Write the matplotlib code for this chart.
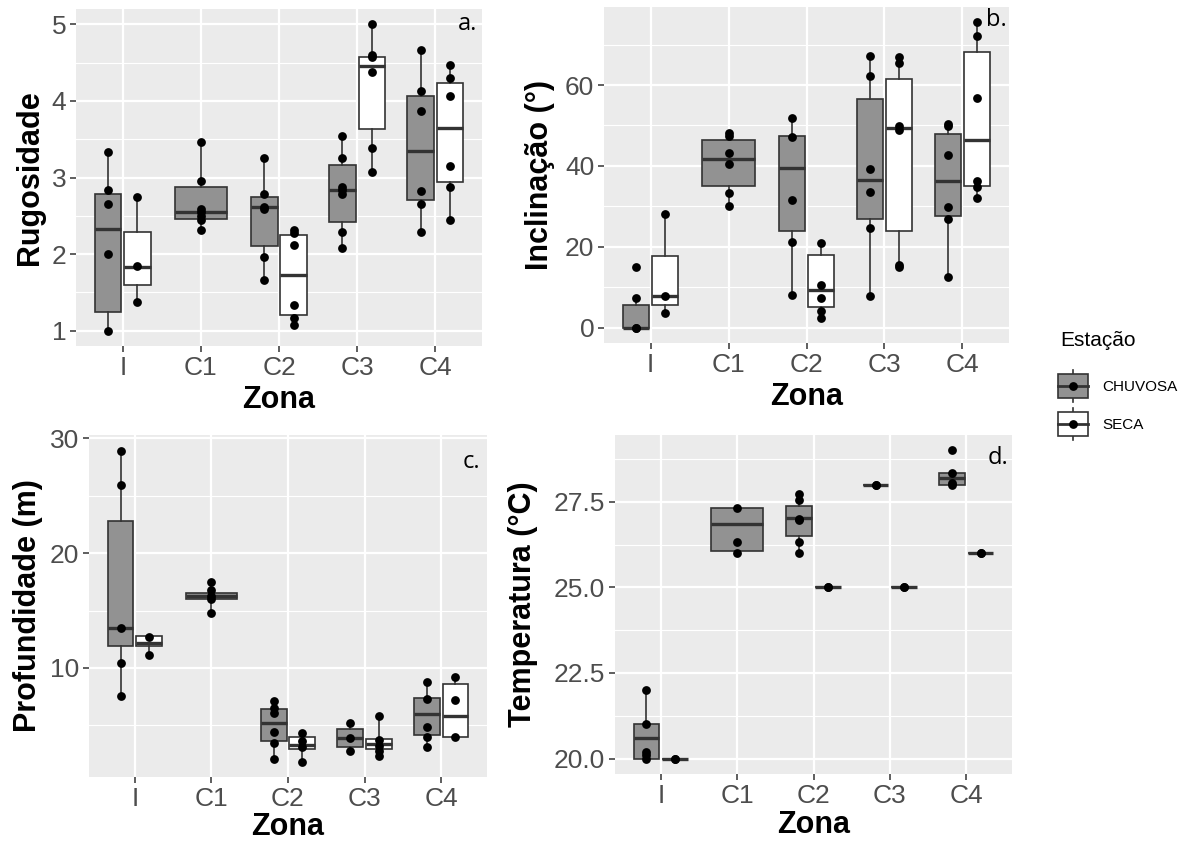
import matplotlib
matplotlib.use("Agg")
import matplotlib.pyplot as plt
from matplotlib.patches import Rectangle

plt.rcParams['font.family'] = ['Liberation Sans', 'DejaVu Sans']

zonas = ["I", "C1", "C2", "C3", "C4"]

# caixas: (whislo, q1, mediana, q3, whishi) por zona; None = sem dados
rug_chuvosa_box = [(1.00, 1.25, 2.33, 2.79, 3.33), (2.32, 2.46, 2.55, 2.87, 3.46),
                   (1.66, 2.11, 2.61, 2.75, 3.25), (2.08, 2.42, 2.84, 3.16, 3.54),
                   (2.29, 2.70, 3.35, 4.07, 4.66)]
rug_seca_box = [(1.37, 1.60, 1.83, 2.29, 2.77), None,
                (1.08, 1.21, 1.73, 2.25, 2.32), (3.07, 3.63, 4.45, 4.57, 5.00),
                (2.45, 2.94, 3.64, 4.24, 4.47)]
rug_chuvosa_pts = [[3.33, 2.84, 2.66, 2.00, 1.00], [3.46, 2.95, 2.59, 2.55, 2.50, 2.45, 2.32],
                   [3.25, 2.79, 2.62, 2.59, 1.96, 1.66], [3.54, 3.25, 2.88, 2.84, 2.78, 2.29, 2.08],
                   [4.66, 4.13, 3.87, 2.83, 2.66, 2.29]]
rug_seca_pts = [[2.75, 1.84, 1.37], [], [2.32, 2.27, 2.12, 1.33, 1.16, 1.08],
                [5.00, 4.60, 4.57, 4.38, 3.38, 3.07], [4.47, 4.30, 4.07, 3.15, 2.87, 2.45]]

inc_chuvosa_box = [(0.0, 0.0, 0.0, 5.6, 7.4), (30.2, 35.0, 41.8, 46.3, 48.1),
                   (8.0, 23.9, 39.5, 47.3, 51.8), (7.8, 26.9, 36.5, 56.6, 67.2),
                   (12.4, 27.6, 36.3, 47.8, 50.3)]
inc_seca_box = [(3.7, 5.7, 7.9, 17.8, 28.2), None,
                (2.3, 5.0, 9.2, 17.9, 21.0), (15.1, 23.9, 49.4, 61.6, 66.9),
                (32.0, 35.0, 46.3, 68.2, 75.5)]
inc_chuvosa_pts = [[14.9, 7.4, 0.0, 0.0], [48.1, 47.5, 43.1, 40.5, 33.2, 30.2],
                   [51.8, 47.2, 31.5, 21.2, 8.0], [67.2, 62.2, 39.3, 33.6, 24.7, 7.8],
                   [50.3, 49.8, 42.8, 29.9, 26.8, 12.4]]
inc_seca_pts = [[28.2, 7.9, 3.7], [], [21.0, 10.5, 7.4, 4.2, 2.3],
                [66.9, 65.5, 49.9, 48.8, 15.4, 15.0], [75.5, 72.2, 56.7, 36.2, 34.8, 32.0]]

prof_chuvosa_box = [(7.6, 11.9, 13.5, 22.8, 28.9), (14.8, 16.0, 16.3, 16.5, 17.5),
                    (2.1, 3.6, 5.2, 6.4, 7.1), (2.8, 3.1, 3.9, 4.7, 5.2),
                    (3.1, 4.2, 6.0, 7.4, 8.8)]
prof_seca_box = [(11.1, 11.9, 12.2, 12.8, 12.8), None,
                 (1.8, 2.9, 3.3, 4.0, 4.3), (2.3, 2.9, 3.4, 3.8, 5.8),
                 (4.0, 4.0, 5.8, 8.6, 9.2)]
prof_chuvosa_pts = [[28.9, 25.9, 13.5, 10.4, 7.6], [17.5, 16.8, 16.3, 16.0, 14.8],
                    [7.1, 6.5, 6.1, 4.4, 3.5, 2.1], [5.2, 3.9, 2.8], [8.8, 7.3, 4.9, 4.0, 3.1]]
prof_seca_pts = [[12.7, 11.1], [], [4.3, 3.6, 3.1, 1.8], [5.8, 3.7, 3.2, 2.8, 2.3], [9.2, 7.2, 4.0]]

temp_chuvosa_box = [(20.0, 20.0, 20.6, 21.0, 22.0), (26.0, 26.07, 26.84, 27.33, 27.33),
                    (26.0, 26.5, 27.03, 27.37, 27.72), (28.0, 28.0, 28.0, 28.0, 28.0),
                    (28.0, 28.0, 28.19, 28.33, 28.35)]
temp_seca_box = [(20.0, 20.0, 20.0, 20.0, 20.0), None,
                 (25.0, 25.0, 25.0, 25.0, 25.0), (25.0, 25.0, 25.0, 25.0, 25.0),
                 (26.0, 26.0, 26.0, 26.0, 26.0)]
temp_chuvosa_pts = [[22.0, 21.0, 20.2, 20.1, 20.0], [27.33, 26.33, 26.0],
                    [27.72, 27.55, 27.0, 26.97, 26.33, 26.0], [28.0, 28.0], [29.0, 28.35, 28.04, 28.0]]
temp_seca_pts = [[20.0, 20.0], [], [25.0, 25.0], [25.0, 25.0], [26.0, 26.0]]

cor_chuvosa = "#929292"
cor_seca = "#ffffff"
cor_linha = "#333333"

W, H = 1197, 843
fig = plt.figure(figsize=(W / 100, H / 100), dpi=100)


def eixo(x0, y0, x1, y1):
    return fig.add_axes([x0 / W, 1 - y1 / H, (x1 - x0) / W, (y1 - y0) / H])


def painel(ax, box_ch, box_se, pts_ch, pts_se, ylim, yticks, yminor, yfmt,
           ylabel, ylab_x, xlab_y, letra, letra_xy):
    ax.set_facecolor("#EBEBEB")
    for s in ax.spines.values():
        s.set_visible(False)
    ax.set_xlim(0.4, 5.6)
    ax.set_ylim(*ylim)
    ax.set_xticks(range(1, 6))
    ax.set_xticklabels(zonas)
    ax.set_yticks(yticks)
    ax.set_yticklabels([yfmt.format(v) for v in yticks])
    ax.set_yticks(yminor, minor=True)
    ax.tick_params(which="major", length=4, width=1.1, color=cor_linha,
                   labelsize=19, labelcolor="#4D4D4D", pad=3)
    ax.tick_params(which="minor", length=0)
    ax.grid(which="major", color="white", linewidth=1.6)
    ax.grid(which="minor", axis="y", color="white", linewidth=0.8)
    ax.set_axisbelow(True)

    for i in range(len(zonas)):
        grupos = [(box_ch[i], pts_ch[i], cor_chuvosa), (box_se[i], pts_se[i], cor_seca)]
        grupos = [g for g in grupos if g[0] is not None]
        for j, (st, pts, cor) in enumerate(grupos):
            if len(grupos) == 2:
                pos = i + 1 + (j - 0.5) * 0.375
                w = 0.3375
            else:
                pos = i + 1
                w = 0.675
            lo, q1, med, q3, hi = st
            ax.bxp([dict(whislo=lo, q1=q1, med=med, q3=q3, whishi=hi)],
                   positions=[pos], widths=w, patch_artist=True,
                   showfliers=False, showcaps=False, manage_ticks=False,
                   boxprops=dict(facecolor=cor, edgecolor=cor_linha, linewidth=1.2),
                   whiskerprops=dict(color=cor_linha, linewidth=1.2),
                   medianprops=dict(color=cor_linha, linewidth=2.4))
            ax.scatter([pos] * len(pts), pts, s=40, color="black", zorder=4,
                       linewidths=0)

    ax.set_ylabel(ylabel, fontsize=22, fontweight="bold", va="center")
    ax.yaxis.set_label_coords(ylab_x, 0.5)
    ax.set_xlabel("Zona", fontsize=22, fontweight="bold", va="center")
    ax.xaxis.set_label_coords(0.5, xlab_y)
    ax.text(letra_xy[0], letra_xy[1], letra, transform=ax.transAxes,
            ha="right", va="center", fontsize=17, family=["Open Sans", "DejaVu Sans"])


ax_a = eixo(76, 9, 482, 346)
painel(ax_a, rug_chuvosa_box, rug_seca_box, rug_chuvosa_pts, rug_seca_pts,
       (0.8, 5.2), [1, 2, 3, 4, 5], [1.5, 2.5, 3.5, 4.5], "{:.0f}",
       "Rugosidade", -0.113, -0.16, "a.", (0.988, 0.955))

ax_b = eixo(604, 7, 1009, 343)
painel(ax_b, inc_chuvosa_box, inc_seca_box, inc_chuvosa_pts, inc_seca_pts,
       (-3.8, 79.3), [0, 20, 40, 60], [10, 30, 50, 70], "{:.0f}",
       "Inclinação (°)", -0.158, -0.16, "b.", (0.995, 0.96))

ax_c = eixo(89, 435, 487, 777)
painel(ax_c, prof_chuvosa_box, prof_seca_box, prof_chuvosa_pts, prof_seca_pts,
       (0.5, 30.3), [10, 20, 30], [5, 15, 25], "{:.0f}",
       "Profundidade (m)", -0.153, -0.145, "c.", (0.982, 0.921))

ax_d = eixo(615, 435, 1012, 774)
painel(ax_d, temp_chuvosa_box, temp_seca_box, temp_chuvosa_pts, temp_seca_pts,
       (19.55, 29.45), [20.0, 22.5, 25.0, 27.5], [21.25, 23.75, 26.25, 28.75], "{:.1f}",
       "Temperatura (°C)", -0.232, -0.15, "d.", (0.99, 0.932))

# legenda desenhada em coordenadas de pixel
leg = fig.add_axes([0, 0, 1, 1], zorder=5)
leg.set_xlim(0, W)
leg.set_ylim(H, 0)
leg.axis("off")
leg.text(1060, 340, "Estação", fontsize=15, va="center", ha="left")
for yc, cor, nome in [(386, cor_chuvosa, "CHUVOSA"), (424, cor_seca, "SECA")]:
    leg.plot([1073, 1073], [yc - 16, yc + 16], color=cor_linha, lw=1.2, zorder=1)
    leg.add_patch(Rectangle((1058, yc - 12), 30, 24, facecolor=cor,
                            edgecolor=cor_linha, lw=1.2, zorder=2))
    leg.plot([1058, 1088], [yc, yc], color=cor_linha, lw=2.0, zorder=3)
    leg.scatter([1073], [yc], s=40, color="black", zorder=4, linewidths=0)
    leg.text(1102, yc + 1, nome, fontsize=11, va="center", ha="left")

fig.savefig("out.png", dpi=100)
